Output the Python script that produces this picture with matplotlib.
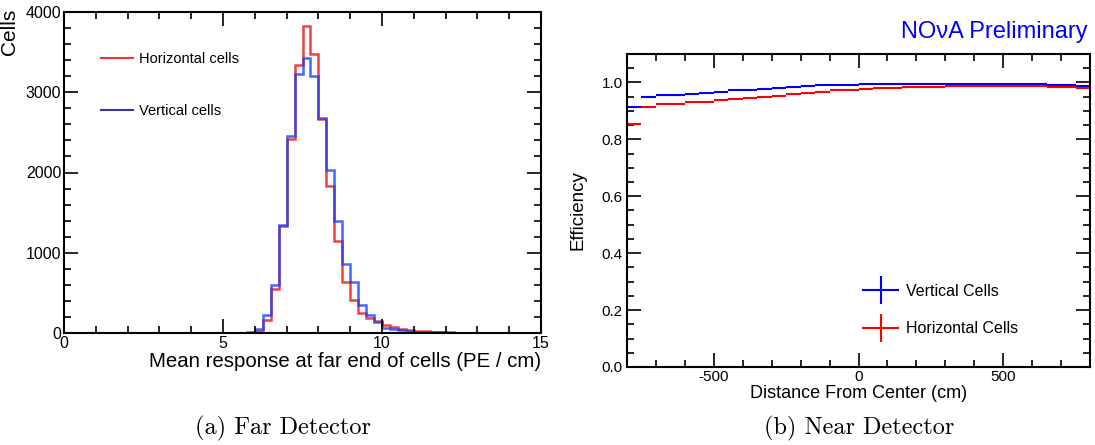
import numpy as np
import matplotlib
matplotlib.use("Agg")
import matplotlib.pyplot as plt
from matplotlib.lines import Line2D
from matplotlib.ticker import MultipleLocator

plt.rcParams['font.family'] = ['Liberation Sans', 'DejaVu Sans']
plt.rcParams['axes.unicode_minus'] = False

# ---------------- Far detector: histogram of mean response (PE/cm) ----------------
fd_range = (0.0, 15.0)
fd_bin_width = 0.25
fd_horizontal = [0, 0, 0, 0, 0, 0, 0, 0, 0, 0,
                 0, 0, 0, 0, 0, 0, 0, 0, 0, 0,
                 0, 0, 0, 5, 30, 166, 548, 1328, 2415, 3340,
                 3826, 3473, 2664, 1826, 1141, 631, 415, 249, 187, 145,
                 95, 70, 55, 40, 28, 20, 14, 10, 8, 5,
                 4, 2, 0, 0, 0, 0, 0, 0, 0, 0]
fd_vertical = [0, 0, 0, 0, 0, 0, 0, 0, 0, 0,
               0, 0, 0, 0, 0, 0, 0, 0, 0, 0,
               0, 0, 0, 10, 55, 224, 593, 1349, 2461, 3228,
               3431, 3203, 2685, 2033, 1398, 859, 631, 344, 220, 137,
               65, 45, 32, 22, 16, 12, 9, 7, 5, 4,
               3, 2, 0, 0, 0, 0, 0, 0, 0, 0]
fd_xticks = [0, 5, 10, 15]
fd_yticks = [0, 1000, 2000, 3000, 4000]

# ---------------- Near detector: efficiency vs distance ----------------
nd_range = (-800, 800)
nd_bin_width = 50
nd_vertical = [0.913, 0.948, 0.955, 0.957, 0.960, 0.964, 0.968, 0.972, 0.975, 0.978,
               0.982, 0.985, 0.988, 0.990, 0.991, 0.992, 0.993, 0.994, 0.994, 0.994,
               0.994, 0.994, 0.994, 0.994, 0.994, 0.994, 0.994, 0.993, 0.993, 0.992,
               0.991, 0.989]
nd_horizontal = [0.854, 0.912, 0.923, 0.926, 0.930, 0.933, 0.937, 0.941, 0.946, 0.950,
                 0.954, 0.960, 0.964, 0.968, 0.972, 0.975, 0.977, 0.980, 0.982, 0.983,
                 0.984, 0.985, 0.986, 0.986, 0.987, 0.987, 0.987, 0.987, 0.986, 0.985,
                 0.983, 0.981]
nd_xticks = [-500, 0, 500]
nd_yticks = [0.0, 0.2, 0.4, 0.6, 0.8, 1.0]

W, H = 1095, 445
fig = plt.figure(figsize=(W / 100, H / 100), dpi=100)

def frac_axes(l, t, r, b):
    return fig.add_axes([l / W, 1 - b / H, (r - l) / W, (b - t) / H])

def style(ax, tick_fs):
    for s in ax.spines.values():
        s.set_linewidth(1.5)
    ax.tick_params(which='both', direction='in', top=True, right=True,
                   width=1.2, labelsize=tick_fs, colors='black')
    ax.tick_params(which='major', length=10)
    ax.tick_params(which='minor', length=5)

# ---- left panel ----
axL = frac_axes(64, 12, 541, 333)
edges_fd = np.arange(fd_range[0], fd_range[1] + fd_bin_width / 2, fd_bin_width)
axL.stairs(fd_horizontal, edges_fd, color='#f02020', lw=1.8, alpha=0.85)
axL.stairs(fd_vertical, edges_fd, color='#1840ff', lw=1.8, alpha=0.8)
axL.set_xlim(*fd_range)
axL.set_ylim(0, 4000)
axL.set_xticks(fd_xticks)
axL.set_yticks(fd_yticks)
axL.xaxis.set_minor_locator(MultipleLocator(1))
axL.yaxis.set_minor_locator(MultipleLocator(200))
style(axL, 11.5)
axL.tick_params(axis='x', pad=2)
axL.tick_params(axis='y', pad=2)
axL.set_xlabel('Mean response at far end of cells (PE / cm)', fontsize=14.7, loc='right')
axL.xaxis.set_label_coords(1.0, -0.06)
axL.set_ylabel('Cells', fontsize=15, loc='top')
axL.yaxis.set_label_coords(-0.095, 1.01)
hL = [Line2D([], [], color='#e83838', lw=1.5), Line2D([], [], color='#3535a8', lw=1.5)]
axL.legend(hL, ['Horizontal cells', 'Vertical cells'], loc='upper left',
           bbox_to_anchor=(0.077, 0.875), frameon=False, fontsize=10.5,
           handlelength=2.2, handletextpad=0.4, labelspacing=2.6, borderpad=0,
           borderaxespad=0)

# ---- right panel ----
axR = frac_axes(627, 54, 1090, 367)
edges_nd = np.arange(nd_range[0], nd_range[1] + nd_bin_width / 2, nd_bin_width)
axR.hlines(nd_vertical, edges_nd[:-1], edges_nd[1:], color='#0000ff', lw=1.5)
axR.hlines(nd_horizontal, edges_nd[:-1], edges_nd[1:], color='#ff0000', lw=1.5)
axR.set_xlim(*nd_range)
axR.set_ylim(0, 1.1)
axR.set_xticks(nd_xticks)
axR.set_yticks(nd_yticks)
axR.set_yticklabels([f'{v:.1f}' for v in nd_yticks])
axR.xaxis.set_minor_locator(MultipleLocator(100))
axR.yaxis.set_minor_locator(MultipleLocator(0.05))
style(axR, 11)
axR.tick_params(axis='x', pad=2)
axR.tick_params(axis='y', pad=3)
axR.set_xlabel('Distance From Center (cm)', fontsize=13)
axR.xaxis.set_label_coords(0.5, -0.058)
axR.set_ylabel('Efficiency', fontsize=13.5)
axR.yaxis.set_label_coords(-0.088, 0.5)
hR = [Line2D([], [], color='#0000ff', lw=1.5, marker='|', markersize=20, markeredgewidth=1.5),
      Line2D([], [], color='#ff0000', lw=1.5, marker='|', markersize=20, markeredgewidth=1.5)]
axR.legend(hR, ['Vertical Cells', 'Horizontal Cells'], loc='upper left',
           bbox_to_anchor=(0.51, 0.265), frameon=False, fontsize=11.5,
           handlelength=2.2, handletextpad=0.5, labelspacing=1.4, borderpad=0,
           borderaxespad=0, numpoints=1)

fig.text(1088 / W, 1 - 32 / H, 'NOνA Preliminary', color='#0000ff', fontsize=17,
         ha='right', va='center')

fig.text(283 / W, 1 - 428 / H, '(a) Far Detector', family='cmr10', fontsize=17.5,
         ha='center', va='center')
fig.text(859 / W, 1 - 428 / H, '(b) Near Detector', family='cmr10', fontsize=17.5,
         ha='center', va='center')

fig.savefig('out.png', dpi=100)
